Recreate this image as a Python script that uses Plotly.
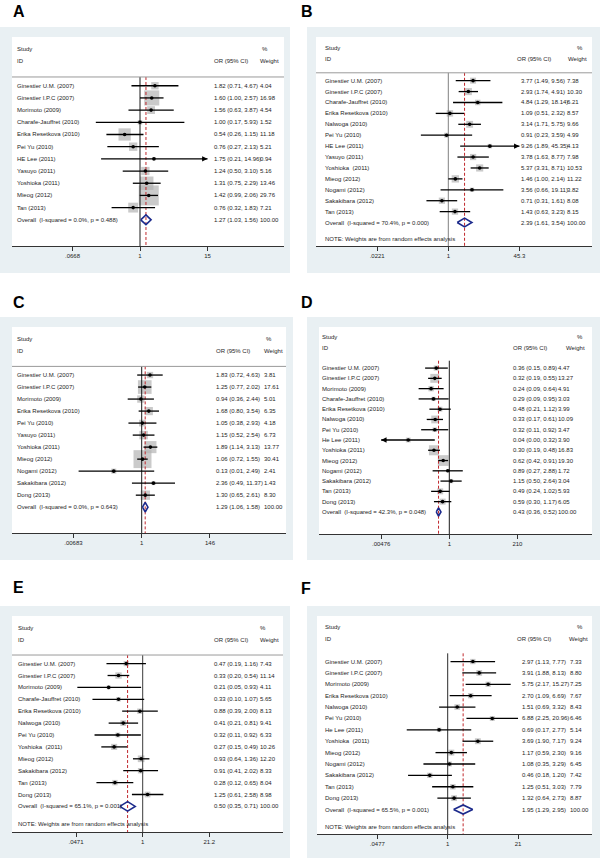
import math
import plotly.graph_objects as go

W, H = 600, 861

# ---------------- data ----------------
A_study = ["Ginestier U.M. (2007)", "Ginestier I.P.C (2007)", "Morimoto (2009)", "Charafe-Jauffret (2010)",
           "Erika Resetkova (2010)", "Pei Yu (2010)", "HE Lee (2011)", "Yasuyo (2011)", "Yoshioka (2011)",
           "Mieog (2012)", "Tan (2013)"]
A_or = [1.82, 1.60, 1.56, 1.00, 0.54, 0.76, 1.75, 1.24, 1.31, 1.42, 0.76]
A_lo = [0.71, 1.00, 0.63, 0.17, 0.26, 0.27, 0.21, 0.50, 0.75, 0.99, 0.32]
A_hi = [4.67, 2.57, 3.87, 5.93, 1.15, 2.13, 14.96, 3.10, 2.29, 2.06, 1.83]
A_wt = [4.04, 16.98, 4.54, 1.52, 11.18, 5.21, 0.94, 5.16, 13.46, 29.76, 7.21]
A_overall = [1.27, 1.03, 1.56]
A_het = "I-squared = 0.0%, p = 0.488"
A_ticks = [0.0668, 1, 15]
A_ticktext = [".0668", "1", "15"]
A_note = False
A_arrows = {"HE Lee (2011)": "right"}

B_study = ["Ginestier U.M. (2007)", "Ginestier I.P.C (2007)", "Charafe-Jauffret (2010)", "Erika Resetkova (2010)",
           "Nalwoga (2010)", "Pei Yu (2010)", "HE Lee (2011)", "Yasuyo (2011)", "Yoshioka\u00a0 (2011)",
           "Mieog (2012)", "Nogami (2012)", "Sakakibara (2012)", "Tan (2013)"]
B_or = [3.77, 2.93, 4.84, 1.09, 3.14, 0.91, 9.26, 3.78, 5.37, 1.46, 3.56, 0.71, 1.43]
B_lo = [1.49, 1.74, 1.29, 0.51, 1.71, 0.23, 1.89, 1.63, 3.31, 1.00, 0.66, 0.31, 0.63]
B_hi = [9.56, 4.91, 18.14, 2.32, 5.75, 3.59, 45.35, 8.77, 8.71, 2.14, 19.11, 1.61, 3.23]
B_wt = [7.38, 10.30, 6.21, 8.57, 9.66, 4.99, 4.13, 7.98, 10.53, 11.22, 3.82, 8.08, 8.15]
B_overall = [2.39, 1.61, 3.54]
B_het = "I-squared = 70.4%, p = 0.000"
B_ticks = [0.0221, 1, 45.3]
B_ticktext = [".0221", "1", "45.3"]
B_note = True
B_arrows = {"HE Lee (2011)": "right"}

C_study = ["Ginestier U.M. (2007)", "Ginestier I.P.C (2007)", "Morimoto (2009)", "Erika Resetkova (2010)",
           "Pei Yu (2010)", "Yasuyo (2011)", "Yoshioka (2011)", "Mieog (2012)", "Nogami (2012)",
           "Sakakibara (2012)", "Dong (2013)"]
C_or = [1.83, 1.25, 0.94, 1.68, 1.05, 1.15, 1.89, 1.06, 0.13, 2.36, 1.30]
C_lo = [0.72, 0.77, 0.36, 0.80, 0.38, 0.52, 1.14, 0.72, 0.01, 0.49, 0.65]
C_hi = [4.63, 2.02, 2.44, 3.54, 2.93, 2.54, 3.13, 1.55, 2.49, 11.37, 2.61]
C_wt = [3.81, 17.61, 5.01, 6.35, 4.18, 6.73, 13.77, 30.41, 2.41, 1.43, 8.30]
C_overall = [1.29, 1.06, 1.58]
C_het = "I-squared = 0.0%, p = 0.643"
C_ticks = [0.00683, 1, 146]
C_ticktext = [".00683", "1", "146"]
C_note = False
C_arrows = {}

D_study = ["Ginestier U.M. (2007)", "Ginestier I.P.C (2007)", "Morimoto (2009)", "Charafe-Jauffret (2010)",
           "Erika Resetkova (2010)", "Nalwoga (2010)", "Pei Yu (2010)", "He Lee (2011)", "Yoshioka (2011)",
           "Mieog (2012)", "Nogami (2012)", "Sakakibara (2012)", "Tan (2013)", "Dong (2013)"]
D_or = [0.36, 0.32, 0.24, 0.29, 0.48, 0.33, 0.32, 0.04, 0.30, 0.62, 0.89, 1.15, 0.49, 0.59]
D_lo = [0.15, 0.19, 0.09, 0.09, 0.21, 0.17, 0.11, 0.00, 0.19, 0.42, 0.27, 0.50, 0.24, 0.30]
D_hi = [0.89, 0.55, 0.64, 0.95, 1.12, 0.61, 0.92, 0.32, 0.48, 0.91, 2.88, 2.64, 1.02, 1.17]
D_wt = [4.47, 13.27, 4.91, 3.03, 3.99, 10.09, 3.47, 3.90, 16.83, 19.30, 1.72, 3.04, 5.93, 6.05]
D_overall = [0.43, 0.36, 0.52]
D_het = "I-squared = 42.3%, p = 0.048"
D_ticks = [0.00476, 1, 210]
D_ticktext = [".00476", "1", "210"]
D_note = False
D_arrows = {"He Lee (2011)": "left"}

E_study = ["Ginestier U.M. (2007)", "Ginestier I.P.C (2007)", "Morimoto (2009)", "Charafe-Jauffret (2010)",
           "Erika Resetkova (2010)", "Nalwoga (2010)", "Pei Yu (2010)", "Yoshioka\u00a0 (2011)", "Mieog (2012)",
           "Sakakibara (2012)", "Tan (2013)", "Dong (2013)"]
E_or = [0.47, 0.33, 0.21, 0.33, 0.88, 0.41, 0.32, 0.27, 0.93, 0.91, 0.28, 1.25]
E_lo = [0.19, 0.20, 0.05, 0.10, 0.39, 0.21, 0.11, 0.15, 0.64, 0.41, 0.12, 0.61]
E_hi = [1.16, 0.54, 0.93, 1.07, 2.00, 0.81, 0.92, 0.49, 1.36, 2.02, 0.65, 2.58]
E_wt = [7.43, 11.14, 4.11, 5.65, 8.13, 9.41, 6.33, 10.26, 12.20, 8.33, 8.04, 8.98]
E_overall = [0.50, 0.35, 0.71]
E_het = "I-squared = 65.1%, p = 0.001"
E_ticks = [0.0471, 1, 21.2]
E_ticktext = [".0471", "1", "21.2"]
E_note = True
E_arrows = {}

F_study = ["Ginestier U.M. (2007)", "Ginestier I.P.C (2007)", "Morimoto (2009)", "Erika Resetkova (2010)",
           "Nalwoga (2010)", "Pei Yu (2010)", "He Lee (2011)", "Yoshioka\u00a0 (2011)", "Mieog (2012)",
           "Nogami (2012)", "Sakakibara (2012)", "Tan (2013)", "Dong (2013)"]
F_or = [2.97, 3.91, 5.75, 2.70, 1.51, 6.88, 0.69, 3.69, 1.17, 1.08, 0.46, 1.25, 1.32]
F_lo = [1.13, 1.88, 2.17, 1.09, 0.69, 2.25, 0.17, 1.90, 0.59, 0.35, 0.18, 0.51, 0.64]
F_hi = [7.77, 8.13, 15.27, 6.69, 3.32, 20.96, 2.77, 7.17, 2.30, 3.29, 1.20, 3.03, 2.73]
F_wt = [7.33, 8.80, 7.25, 7.67, 8.43, 6.46, 5.14, 9.24, 9.16, 6.45, 7.42, 7.79, 8.87]
F_overall = [1.95, 1.29, 2.95]
F_het = "I-squared = 65.5%, p = 0.001"
F_ticks = [0.0477, 1, 21]
F_ticktext = [".0477", "1", "21"]
F_note = True
F_arrows = {}

DATA = {
    "A": (A_study, A_or, A_lo, A_hi, A_wt, A_overall, A_het, A_ticks, A_ticktext, A_note, A_arrows),
    "B": (B_study, B_or, B_lo, B_hi, B_wt, B_overall, B_het, B_ticks, B_ticktext, B_note, B_arrows),
    "C": (C_study, C_or, C_lo, C_hi, C_wt, C_overall, C_het, C_ticks, C_ticktext, C_note, C_arrows),
    "D": (D_study, D_or, D_lo, D_hi, D_wt, D_overall, D_het, D_ticks, D_ticktext, D_note, D_arrows),
    "E": (E_study, E_or, E_lo, E_hi, E_wt, E_overall, E_het, E_ticks, E_ticktext, E_note, E_arrows),
    "F": (F_study, F_or, F_lo, F_hi, F_wt, F_overall, F_het, F_ticks, F_ticktext, F_note, F_arrows),
}

# ---------------- layout (pixels) ----------------
LAY = {
    "A": dict(label=(12, 12), outer=(0, 27, 290, 273), inner=(12, 37, 284, 246), p1=140, pmin=73, pmax=208,
              name_x=16, or_x=212.5, orh_x=212.5, wt_x=258.5, wth_x=258.5, pct_x=261, k=3.67, null="#1a1a1a", sep=True),
    "B": dict(label=(300, 12), outer=(307, 27, 600, 273), inner=(316, 37, 592, 246), p1=448.3, pmin=375, pmax=517.3,
              name_x=324, or_x=520, orh_x=516, wt_x=566, wth_x=567, pct_x=576, k=2.2, null="#808080", sep=True),
    "C": dict(label=(12, 302), outer=(0, 317, 293, 560), inner=(12, 327, 286, 533), p1=141.7, pmin=72.7, pmax=209.3,
              name_x=16, or_x=214.5, orh_x=214.5, wt_x=262.5, wth_x=262.5, pct_x=265, k=3.26, null="#1a1a1a", sep=True),
    "D": dict(label=(300, 302), outer=(307, 317, 600, 560), inner=(319, 327, 592, 534), p1=449.3, pmin=381, pmax=517.3,
              name_x=321, or_x=512, orh_x=512, wt_x=556.5, wth_x=565, pct_x=576, k=2.45, null="#1a1a1a", sep=False),
    "E": dict(label=(12, 587), outer=(0, 606, 290, 858), inner=(12, 616, 283, 832), p1=142.7, pmin=76, pmax=209.3,
              name_x=16.5, or_x=213, orh_x=213, wt_x=259, wth_x=259, pct_x=259, k=1.9, null="#3a3a3a", sep=True),
    "F": dict(label=(300, 588), outer=(307, 606, 600, 858), inner=(317, 616, 592, 834), p1=447.7, pmin=376, pmax=516.7,
              name_x=324, or_x=521, orh_x=516, wt_x=569, wth_x=568, pct_x=576, k=1.95, null="#2a2a2a", sep=False),
}

FONT = "Liberation Sans, Arial, sans-serif"
TXT = "#1e1e1e"
GREY_BOX = "#b4b4b4"
NAVY = "#1c2a8c"
RED = "#c0282d"
OUTER = "#e9f0f3"

fig = go.Figure()
layout = dict(width=W, height=H, margin=dict(l=0, r=0, t=0, b=0), paper_bgcolor="white",
              plot_bgcolor="rgba(0,0,0,0)", showlegend=False, shapes=[], annotations=[])

def px_x(p):
    return p / W

def px_y(p):
    return 1 - p / H

def fmt(v):
    return f"{v:.2f}"

for i, key in enumerate(["A", "B", "C", "D", "E", "F"], start=1):
    study, orv, lo, hi, wt, ov, het, ticks, ticktext, note, arrows = DATA[key]
    L = LAY[key]
    xa = "x" if i == 1 else f"x{i}"
    ya = "y" if i == 1 else f"y{i}"
    xname = "xaxis" if i == 1 else f"xaxis{i}"
    yname = "yaxis" if i == 1 else f"yaxis{i}"
    n = len(study)
    bottom = n + 2.15
    top = -4.0
    sep = -0.72
    x0, y0, x1, y1 = L["inner"]
    scale = (L["pmax"] - L["pmin"]) / (math.log(ticks[-1]) - math.log(ticks[0]))
    r_lo = (x0 - L["p1"]) / scale / math.log(10)
    r_hi = (x1 - L["p1"]) / scale / math.log(10)
    layout[xname] = dict(domain=[px_x(x0), px_x(x1)], type="log", range=[r_lo, r_hi], anchor=ya,
                         tickvals=ticks, ticktext=ticktext, ticks="outside", ticklen=4, tickwidth=1,
                         tickcolor="#333", showline=True, linecolor="#333", linewidth=1,
                         showgrid=False, zeroline=False, tickfont=dict(family=FONT, size=6, color=TXT),
                         fixedrange=True)
    layout[yname] = dict(domain=[px_y(y1), px_y(y0)], range=[bottom, top], anchor=xa, visible=False,
                         showgrid=False, zeroline=False, fixedrange=True)

    # boxes
    ox0, oy0, ox1, oy1 = L["outer"]
    layout["shapes"].append(dict(type="rect", xref="paper", yref="paper", x0=px_x(ox0), x1=px_x(ox1),
                                 y0=px_y(oy1), y1=px_y(oy0), fillcolor=OUTER, line=dict(width=0), layer="below"))
    layout["shapes"].append(dict(type="rect", xref="paper", yref="paper", x0=px_x(x0), x1=px_x(x1),
                                 y0=px_y(y1), y1=px_y(y0), fillcolor="white", line=dict(width=0), layer="below"))
    # separator
    if L["sep"]:
        layout["shapes"].append(dict(type="line", xref="paper", yref=ya, x0=px_x(x0), x1=px_x(x1),
                                     y0=sep, y1=sep, line=dict(color="#9a9a9a", width=1)))

    rows = list(range(n))
    # weight boxes
    fig.add_trace(go.Scatter(x=orv, y=rows, mode="markers", xaxis=xa, yaxis=ya, hoverinfo="skip",
                             marker=dict(symbol="square", color=GREY_BOX, size=[L["k"] * math.sqrt(w) for w in wt],
                                         line=dict(width=0))))
    # null line and overall line
    fig.add_trace(go.Scatter(x=[1, 1], y=[sep, bottom], mode="lines", xaxis=xa, yaxis=ya, hoverinfo="skip",
                             line=dict(color=L["null"], width=1)))
    fig.add_trace(go.Scatter(x=[ov[0], ov[0]], y=[sep, bottom], mode="lines", xaxis=xa, yaxis=ya, hoverinfo="skip",
                             line=dict(color=RED, width=1, dash="3px,2px")))
    # CIs
    cx, cy = [], []
    for r, (s, l, h) in enumerate(zip(study, lo, hi)):
        a = arrows.get(s, "")
        ll = ticks[0] if a == "left" else l
        hh = ticks[-1] if a == "right" else h
        cx += [ll, hh, None]
        cy += [r, r, None]
        if a:
            tip = ticks[-1] if a == "right" else ticks[0]
            layout["annotations"].append(dict(xref=xa, yref=ya, x=math.log10(tip), y=r, ax=(-7 if a == "right" else 7),
                                              ay=0, showarrow=True, arrowhead=2, arrowsize=0.9, arrowwidth=1.2,
                                              arrowcolor="black", text=""))
    fig.add_trace(go.Scatter(x=cx, y=cy, mode="lines", xaxis=xa, yaxis=ya, hoverinfo="skip",
                             line=dict(color="black", width=1.3)))
    fig.add_trace(go.Scatter(x=orv, y=rows, mode="markers", xaxis=xa, yaxis=ya, hoverinfo="skip",
                             marker=dict(symbol="circle", color="black", size=3.6)))
    # overall diamond
    fig.add_trace(go.Scatter(x=[ov[1], ov[0], ov[2], ov[0], ov[1]], y=[n, n - 0.4, n, n + 0.4, n], mode="lines",
                             xaxis=xa, yaxis=ya, hoverinfo="skip", line=dict(color=NAVY, width=1.6)))

    def txt(xp, yv, t):
        layout["annotations"].append(dict(xref="paper", yref=ya, x=px_x(xp), y=yv, text=t, showarrow=False,
                                          xanchor="left", yanchor="middle", borderpad=0,
                                          font=dict(family=FONT, size=6, color=TXT)))

    # header
    txt(L["name_x"], -3, "Study")
    txt(L["name_x"], -2, "ID")
    txt(L["pct_x"], -3, "%")
    txt(L["orh_x"], -2, "OR (95% CI)")
    txt(L["wth_x"], -2, "Weight")
    for r in rows:
        txt(L["name_x"], r, study[r])
        txt(L["or_x"], r, f"{fmt(orv[r])} ({fmt(lo[r])}, {fmt(hi[r])})")
        txt(L["wt_x"], r, fmt(wt[r]))
    txt(L["name_x"], n, f"Overall\u00a0 ({het})")
    txt(L["or_x"], n, f"{fmt(ov[0])} ({fmt(ov[1])}, {fmt(ov[2])})")
    txt(L["wt_x"], n, "100.00")
    if note:
        txt(L["name_x"], n + 1.5, "NOTE: Weights are from random effects analysis")

    # panel letter
    lx, ly = L["label"]
    layout["annotations"].append(dict(xref="paper", yref="paper", x=px_x(lx), y=px_y(ly), text=f"<b>{key}</b>",
                                      showarrow=False, xanchor="left", yanchor="middle", borderpad=0,
                                      font=dict(family=FONT, size=16, color="black")))

fig.update_layout(**layout)
# remove the browser's default 8px body margin so the figure sits at the page origin; hide the modebar
fig.write_html("out.html", config={"displayModeBar": False, "staticPlot": True},
               post_script="document.body.style.margin='0px';document.body.style.overflow='hidden';")
